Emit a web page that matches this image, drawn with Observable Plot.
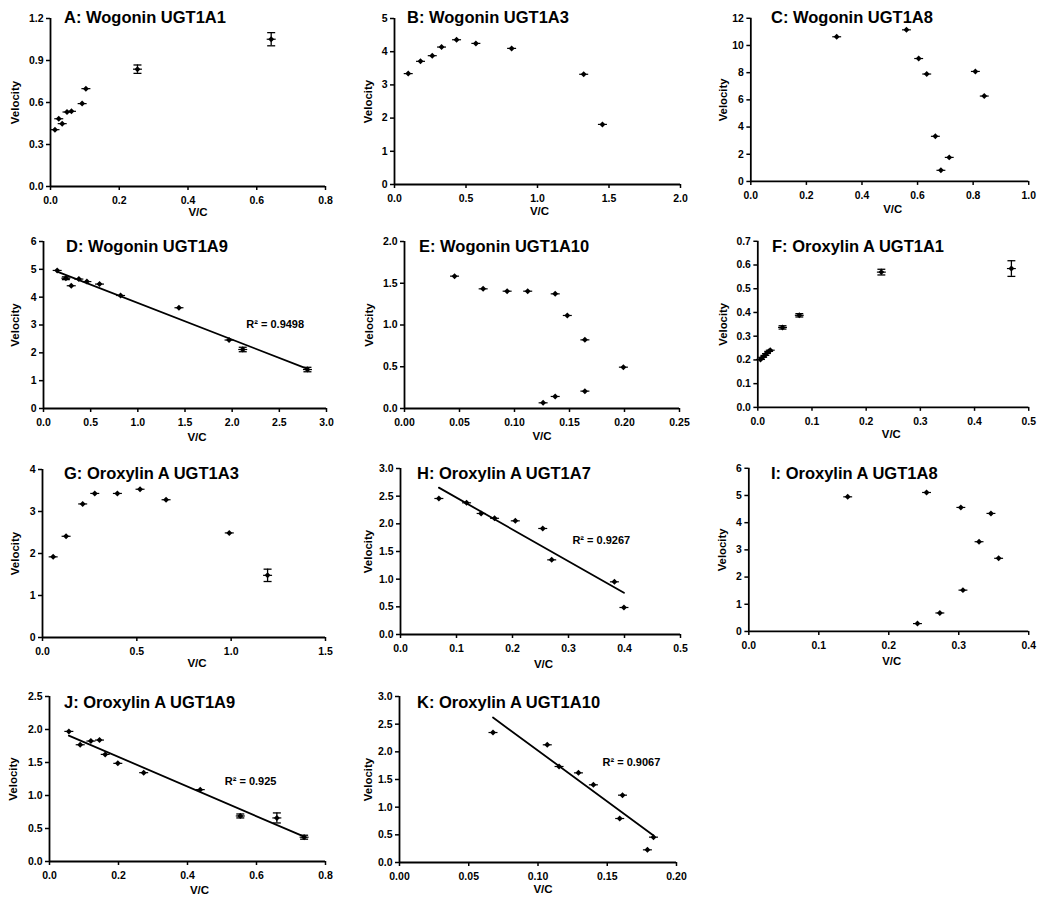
<!DOCTYPE html>
<html><head><meta charset="utf-8">
<script src="https://cdn.jsdelivr.net/npm/d3@7"></script>
<script src="https://cdn.jsdelivr.net/npm/@observablehq/plot@0.6"></script>
<style>
html,body{margin:0;padding:0;background:#fff}
body{width:1050px;height:904px;overflow:hidden;position:relative;font-family:'Liberation Sans',Arial,sans-serif}
.panel{position:absolute}
.title{position:absolute;font-weight:bold;font-size:16.5px;white-space:nowrap;line-height:1;color:#000}
</style></head><body>
<div id="root"></div>
<script>
// ---- Data (V/C, velocity, error) ----
const wogA1_vc = [0.013, 0.024, 0.034, 0.048, 0.061, 0.092, 0.103, 0.253, 0.642];
const wogA1_v  = [0.406, 0.484, 0.449, 0.532, 0.537, 0.592, 0.699, 0.838, 1.052];
const wogA1_err= [0, 0, 0, 0, 0, 0, 0, 0.03, 0.047];

const wogA3_vc = [0.096, 0.182, 0.264, 0.329, 0.434, 0.569, 0.819, 1.323, 1.454];
const wogA3_v  = [3.34, 3.71, 3.88, 4.14, 4.36, 4.25, 4.10, 3.32, 1.81];

const wogA8_vc = [0.309, 0.560, 0.604, 0.633, 0.664, 0.684, 0.714, 0.808, 0.840];
const wogA8_v  = [10.64, 11.15, 9.04, 7.90, 3.32, 0.82, 1.77, 8.09, 6.28];

const wogA9_vc = [0.145, 0.237, 0.294, 0.375, 0.46, 0.594, 0.817, 1.436, 1.967, 2.112, 2.798];
const wogA9_v  = [4.96, 4.68, 4.41, 4.65, 4.56, 4.47, 4.06, 3.62, 2.46, 2.12, 1.40];
const wogA9_err= [0, 0.05, 0, 0, 0, 0, 0, 0, 0, 0.08, 0.08];

const wogA10_vc = [0.0455, 0.0715, 0.0933, 0.112, 0.137, 0.148, 0.164, 0.199, 0.126, 0.137, 0.164];
const wogA10_v  = [1.585, 1.433, 1.405, 1.405, 1.373, 1.114, 0.822, 0.495, 0.068, 0.144, 0.208];

const oroA1_vc = [0.005, 0.009, 0.013, 0.016, 0.020, 0.023, 0.0456, 0.0766, 0.228, 0.468];
const oroA1_v  = [0.202, 0.211, 0.219, 0.227, 0.236, 0.241, 0.337, 0.388, 0.570, 0.585];
const oroA1_err= [0, 0, 0, 0, 0, 0, 0.007, 0.007, 0.012, 0.033];

const oroA3_vc = [0.0565, 0.125, 0.213, 0.277, 0.397, 0.517, 0.655, 0.99, 1.193];
const oroA3_v  = [1.92, 2.41, 3.18, 3.43, 3.43, 3.53, 3.28, 2.49, 1.48];
const oroA3_err= [0, 0, 0, 0, 0, 0, 0, 0, 0.147];

const oroA7_vc = [0.0685, 0.118, 0.144, 0.168, 0.205, 0.254, 0.270, 0.382, 0.399];
const oroA7_v  = [2.458, 2.38, 2.187, 2.10, 2.054, 1.916, 1.349, 0.952, 0.488];

const oroA8_vc = [0.1413, 0.254, 0.303, 0.346, 0.329, 0.357, 0.306, 0.273, 0.241];
const oroA8_v  = [4.95, 5.11, 4.56, 4.34, 3.30, 2.69, 1.52, 0.68, 0.29];

const oroA9_vc = [0.0561, 0.089, 0.120, 0.145, 0.1615, 0.198, 0.273, 0.437, 0.553, 0.659, 0.738];
const oroA9_v  = [1.971, 1.769, 1.825, 1.84, 1.623, 1.487, 1.346, 1.089, 0.69, 0.66, 0.368];
const oroA9_err= [0, 0, 0, 0, 0, 0, 0, 0, 0.03, 0.076, 0.03];

const oroA10_vc = [0.0675, 0.1067, 0.1152, 0.1292, 0.14, 0.161, 0.159, 0.179, 0.1834];
const oroA10_v  = [2.349, 2.127, 1.735, 1.62, 1.404, 1.217, 0.795, 0.229, 0.458];

const titles = ["A: Wogonin UGT1A1", "B: Wogonin UGT1A3", "C: Wogonin UGT1A8", "D: Wogonin UGT1A9",
  "E: Wogonin UGT1A10", "F: Oroxylin A UGT1A1", "G: Oroxylin A UGT1A3", "H: Oroxylin A UGT1A7",
  "I: Oroxylin A UGT1A8", "J: Oroxylin A UGT1A9", "K: Oroxylin A UGT1A10"];
const r2Labels = ["R\u00B2 = 0.9498", "R\u00B2 = 0.9267", "R\u00B2 = 0.925", "R\u00B2 = 0.9067"];

// ---- Panel layout ----
const panels = [
  {title: titles[0], vc: wogA1_vc, v: wogA1_v, err: wogA1_err, x: [0.8, 0.2, 1], y: [1.2, 0.3, 1],
   frame: [50, 325, 18, 186], t: [64, 17], vel: 35, vcl: [10, 26]},
  {title: titles[1], vc: wogA3_vc, v: wogA3_v, x: [2, 0.5, 1], y: [5, 1, 0],
   frame: [394, 680, 18, 184], t: [407, 17], vel: 26, vcl: [2, 27]},
  {title: titles[2], vc: wogA8_vc, v: wogA8_v, x: [1, 0.2, 1], y: [12, 2, 0],
   frame: [751, 1032, 18, 183], t: [771, 17], vel: 28, vcl: [3, 28]},
  {title: titles[3], vc: wogA9_vc, v: wogA9_v, err: wogA9_err, x: [3, 0.5, 1], y: [6, 1, 0],
   frame: [43, 326, 241, 408], t: [66, 246], vel: 28, vcl: [12, 29], fit: true, r2: {x: 2.15, y: 3.02, label: r2Labels[0]}},
  {title: titles[4], vc: wogA10_vc, v: wogA10_v, x: [0.25, 0.05, 2], y: [2, 0.5, 1],
   frame: [404, 679, 241, 408], t: [419, 246], vel: 35, vcl: [0, 28]},
  {title: titles[5], vc: oroA1_vc, v: oroA1_v, err: oroA1_err, x: [0.5, 0.1, 1], y: [0.7, 0.1, 1],
   frame: [758, 1032, 241, 409], t: [772, 246], vel: 35, vcl: [-2, 27]},
  {title: titles[6], vc: oroA3_vc, v: oroA3_v, err: oroA3_err, x: [1.5, 0.5, 1], y: [4, 1, 0],
   frame: [42, 325, 469, 637], t: [64, 473], vel: 27, vcl: [13, 26]},
  {title: titles[7], vc: oroA7_vc, v: oroA7_v, x: [0.5, 0.1, 1], y: [3, 0.5, 1],
   frame: [400, 680, 468, 634], t: [417, 473], vel: 32, vcl: [3, 30], fit: true, r2: {x: 0.307, y: 1.70, label: r2Labels[1]}},
  {title: titles[8], vc: oroA8_vc, v: oroA8_v, x: [0.4, 0.1, 1], y: [6, 1, 0],
   frame: [749, 1032, 468, 633], t: [771, 473], vel: 27, vcl: [3, 30]},
  {title: titles[9], vc: oroA9_vc, v: oroA9_v, err: oroA9_err, x: [0.8, 0.2, 1], y: [2.5, 0.5, 1],
   frame: [49, 325, 696, 861], t: [64, 702], vel: 36, vcl: [12, 29], fit: true, r2: {x: 0.508, y: 1.21, label: r2Labels[2]}},
  {title: titles[10], vc: oroA10_vc, v: oroA10_v, x: [0.2, 0.05, 2], y: [3, 0.5, 1],
   frame: [399, 676, 696, 862], t: [417, 702], vel: 31, vcl: [5, 27], fit: true, r2: {x: 0.1466, y: 1.81, label: r2Labels[3]}}
];

const FONT = "'Liberation Sans', Arial, Helvetica, sans-serif";
const capSym = {draw(ctx) { ctx.moveTo(-4, 0); ctx.lineTo(4, 0); }};
const whiskSym = {draw(ctx) { ctx.moveTo(-4.5, 0); ctx.lineTo(4.5, 0); }};

const root = document.getElementById("root");
const ML = 62, MR = 22, MT = 20, MB = 46;

for (const p of panels) {
  const [fx0, fx1, fy0, fy1] = p.frame;
  const pts = p.vc.map((x, i) => ({x, y: p.v[i], e: p.err ? p.err[i] : 0}));
  const eb = pts.filter(d => d.e > 0);
  const [xMax, xStep, xd] = p.x;
  const [yMax, yStep, yd] = p.y;
  const xt = d3.range(0, xMax + xStep / 2, xStep);
  const yt = d3.range(0, yMax + yStep / 2, yStep);
  const marks = [
    Plot.ruleY([0], {stroke: "black", strokeWidth: 1.8}),
    Plot.ruleX([0], {stroke: "black", strokeWidth: 1.8}),
    Plot.axisX({ticks: xt, tickFormat: d3.format(`.${xd}f`), tickSize: 4, tickPadding: 6, label: null,
      stroke: "black", strokeWidth: 1.5, fontSize: 10.5, fontWeight: "bold"}),
    Plot.axisY({ticks: yt, tickFormat: d3.format(`.${yd}f`), tickSize: 4, tickPadding: 3, label: null,
      stroke: "black", strokeWidth: 1.5, fontSize: 10.5, fontWeight: "bold"}),
    Plot.text(["Velocity"], {frameAnchor: "left", rotate: -90, dx: -p.vel, textAnchor: "middle",
      lineAnchor: "middle", fontSize: 11.5, fontWeight: "bold", fill: "black"}),
    Plot.text(["V/C"], {frameAnchor: "bottom", dy: p.vcl[1], dx: p.vcl[0], textAnchor: "middle",
      lineAnchor: "middle", fontSize: 11.5, fontWeight: "bold", fill: "black"})
  ];
  if (p.fit) marks.push(Plot.linearRegressionY(pts, {x: "x", y: "y", ci: 0, stroke: "black", strokeWidth: 1.8}));
  if (eb.length) {
    marks.push(Plot.ruleX(eb, {x: "x", y1: d => d.y - d.e, y2: d => d.y + d.e, stroke: "black", strokeWidth: 1.3}));
    marks.push(Plot.dot(eb, {x: "x", y: d => d.y - d.e, symbol: capSym, stroke: "black", fill: "none", strokeWidth: 1.3}));
    marks.push(Plot.dot(eb, {x: "x", y: d => d.y + d.e, symbol: capSym, stroke: "black", fill: "none", strokeWidth: 1.3}));
  }
  marks.push(Plot.dot(pts, {x: "x", y: "y", symbol: whiskSym, stroke: "black", fill: "none", strokeWidth: 1.2}));
  marks.push(Plot.dot(pts, {x: "x", y: "y", symbol: "diamond2", r: 2.7, fill: "black"}));
  if (p.r2) marks.push(Plot.text([p.r2], {x: "x", y: "y", text: "label", textAnchor: "start",
    lineAnchor: "middle", fontSize: 11, fontWeight: "bold", fill: "black"}));

  const svg = Plot.plot({
    width: fx1 - fx0 + ML + MR,
    height: fy1 - fy0 + MT + MB,
    marginLeft: ML, marginRight: MR, marginTop: MT, marginBottom: MB,
    x: {domain: [0, xMax], label: null},
    y: {domain: [0, yMax], label: null},
    style: {fontFamily: FONT, fontSize: "10.5px", fontWeight: "bold", color: "black", background: "transparent", overflow: "visible"},
    marks
  });
  const wrap = document.createElement("div");
  wrap.className = "panel";
  wrap.style.left = (fx0 - ML) + "px";
  wrap.style.top = (fy0 - MT) + "px";
  wrap.appendChild(svg);
  root.appendChild(wrap);

  const t = document.createElement("div");
  t.className = "title";
  t.textContent = p.title;
  t.style.left = p.t[0] + "px";
  t.style.top = (p.t[1] - 8) + "px";
  root.appendChild(t);
}
</script>
</body></html>
